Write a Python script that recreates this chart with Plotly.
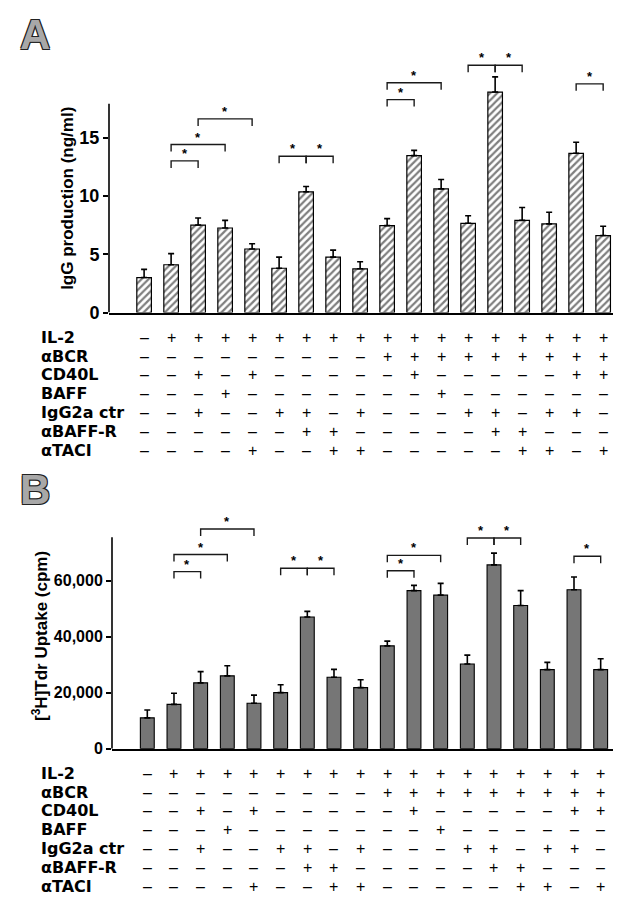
import plotly.graph_objects as go

W, H = 621, 898

# ---------------- data ----------------
conditions = ["IL-2", "αBCR", "CD40L", "BAFF", "IgG2a ctr", "αBAFF-R", "αTACI"]
cond_signs = [
    "-+++++++++++++++++",
    "---------+++++++++",
    "--+-+-----+-----++",
    "---+-------+------",
    "--+--++-+---++-++-",
    "------++-----++---",
    "----+--++-----++-+",
]

igg_values = [3.0, 4.1, 7.5, 7.25, 5.45, 3.8, 10.35, 4.75, 3.75,
              7.45, 13.45, 10.6, 7.65, 18.9, 7.9, 7.6, 13.65, 6.6]
igg_errors = [0.7, 0.95, 0.6, 0.65, 0.45, 0.95, 0.45, 0.6, 0.6,
              0.6, 0.45, 0.8, 0.65, 1.3, 1.1, 1.0, 0.95, 0.8]

tdr_values = [11000, 15800, 23500, 26000, 16200, 20000, 47000, 25500, 21800,
              36700, 56400, 54800, 30200, 65600, 51100, 28200, 56700, 28200]
tdr_errors = [2800, 4000, 4000, 3600, 2900, 2800, 2000, 2800, 2800,
              1700, 1900, 4200, 3200, 4200, 5300, 2600, 4600, 3900]

igg_ticks = [0, 5, 10, 15]
igg_ticklabels = ["0", "5", "10", "15"]
tdr_ticks = [0, 20000, 40000, 60000]
tdr_ticklabels = ["0", "20,000", "40,000", "60,000"]

# significance brackets (bar index left, right, height)
igg_br_left = [1, 1, 2, 5, 6, 9, 9, 12, 13, 16]
igg_br_right = [2, 3, 4, 6, 7, 10, 11, 13, 14, 17]
igg_br_height = [13.0, 14.4, 16.6, 13.4, 13.4, 18.25, 19.7, 21.2, 21.2, 19.6]

tdr_br_left = [1, 1, 2, 5, 6, 9, 9, 12, 13, 16]
tdr_br_right = [2, 3, 4, 6, 7, 10, 11, 13, 14, 17]
tdr_br_height = [63200, 69300, 78400, 64400, 64400, 63500, 69000, 75200, 75200, 68700]

n = len(igg_values)
xs = list(range(n))

FONT = "Liberation Sans, Arial, Helvetica, sans-serif"
WIDE = "DejaVu Sans, Verdana, sans-serif"


def py(px):
    return 1 - px / H


def px_x(px):
    return px / W


fig = go.Figure()

# Panel A bars
fig.add_trace(go.Bar(
    x=xs, y=igg_values, width=0.54,
    marker=dict(color="white", line=dict(color="black", width=1.2),
                pattern=dict(shape="/", fgcolor="black", bgcolor="white",
                             size=5, solidity=0.45)),
    error_y=dict(type="data", symmetric=False, array=igg_errors,
                 arrayminus=[0] * n, color="black", thickness=1.6, width=3),
    xaxis="x", yaxis="y", showlegend=False,
))

# Panel B bars
fig.add_trace(go.Bar(
    x=xs, y=tdr_values, width=0.52,
    marker=dict(color="#767676", line=dict(color="black", width=1.1)),
    error_y=dict(type="data", symmetric=False, array=tdr_errors,
                 arrayminus=[0] * n, color="black", thickness=1.6, width=3),
    xaxis="x2", yaxis="y2", showlegend=False,
))

axis_common = dict(showgrid=False, zeroline=False)

fig.update_layout(
    width=W, height=H,
    margin=dict(l=0, r=0, t=0, b=0),
    paper_bgcolor="white", plot_bgcolor="white",
    font=dict(family=FONT, color="black"),
    bargap=0.4,
    xaxis=dict(domain=[px_x(101), px_x(620)], range=[-1.3, 17.92],
               showline=True, linecolor="black", linewidth=1.6,
               ticks="", showticklabels=False, anchor="y", **axis_common),
    yaxis=dict(domain=[py(308), py(42.5)], range=[0, 22.5],
               tickvals=igg_ticks, ticktext=igg_ticklabels,
               ticks="outside", ticklen=5, tickwidth=1.5, tickcolor="black",
               tickfont=dict(family=FONT, size=18, weight="bold"),
               showline=False, anchor="x", **axis_common),
    xaxis2=dict(domain=[px_x(104), px_x(610)], range=[-1.324, 17.65],
                showline=True, linecolor="black", linewidth=1.6,
                ticks="", showticklabels=False, anchor="y2", **axis_common),
    yaxis2=dict(domain=[py(749), py(516.7)], range=[0, 82000],
                tickvals=tdr_ticks, ticktext=tdr_ticklabels,
                ticks="outside", ticklen=5, tickwidth=1.5, tickcolor="black",
                tickfont=dict(family=FONT, size=16, weight="bold"),
                showline=False, anchor="x2", **axis_common),
)

shapes = []
annotations = []

# y axis lines (stopping below the brackets)
shapes.append(dict(type="line", xref="x domain", yref="y", x0=0, x1=0,
                   y0=0, y1=17.9, line=dict(color="black", width=1.6)))
shapes.append(dict(type="line", xref="x2 domain", yref="y2", x0=0, x1=0,
                   y0=0, y1=75500, line=dict(color="black", width=1.6)))


def add_brackets(xref, yref, lefts, rights, heights, leg):
    for l, r, h in zip(lefts, rights, heights):
        shapes.append(dict(type="path", xref=xref, yref=yref,
                           path=f"M {l},{h - leg} L {l},{h} L {r},{h} L {r},{h - leg}",
                           line=dict(color="#1a1a1a", width=1.4)))
        annotations.append(dict(xref=xref, yref=yref, x=(l + r) / 2, y=h,
                                text="*", showarrow=False, yanchor="bottom",
                                yshift=-2,
                                font=dict(family=FONT, size=13, color="black",
                                          weight="bold")))


add_brackets("x", "y", igg_br_left, igg_br_right, igg_br_height, 0.6)
add_brackets("x2", "y2", tdr_br_left, tdr_br_right, tdr_br_height, 2500)

# condition tables
row_gap = 19.0
for table_xref, first_row in (("x", 333), ("x2", 774)):
    for r, (name, signs) in enumerate(zip(conditions, cond_signs)):
        ypx = first_row + r * row_gap
        annotations.append(dict(xref="paper", yref="paper", x=px_x(32), y=py(ypx),
                                text=name, showarrow=False, xanchor="left",
                                yanchor="middle", borderpad=0,
                                font=dict(family=WIDE, size=16, weight="bold",
                                          color="black")))
        for i, s in enumerate(signs):
            annotations.append(dict(xref=table_xref, yref="paper", x=i, y=py(ypx),
                                    text="+" if s == "+" else "–",
                                    showarrow=False, xanchor="center",
                                    yanchor="middle", borderpad=0,
                                    font=dict(family=FONT, size=16,
                                              color="black")))

# y titles
annotations.append(dict(xref="paper", yref="paper", x=px_x(60), y=py(193),
                        text="IgG production (ng/ml)", textangle=-90,
                        showarrow=False, xanchor="center", yanchor="middle",
                        font=dict(family=FONT, size=17, weight="bold")))
annotations.append(dict(xref="paper", yref="paper", x=px_x(32), y=py(635),
                        text="[<sup>3</sup>H]Tdr Uptake (cpm)", textangle=-90,
                        showarrow=False, xanchor="center", yanchor="middle",
                        font=dict(family=FONT, size=17, weight="bold")))

# panel letters
outline = "1px 1px 0 #222, -1px -1px 0 #222, 1px -1px 0 #222, -1px 1px 0 #222"
for letter, cx, cy in (("A", 27, 27), ("B", 27, 487)):
    annotations.append(dict(xref="paper", yref="paper", x=px_x(cx), y=py(cy),
                            text=letter, showarrow=False, xanchor="center",
                            yanchor="middle",
                            font=dict(family=FONT, size=42, weight="bold",
                                      color="#a8a8a8", shadow=outline)))

fig.update_layout(shapes=shapes, annotations=annotations)

fig.write_html("out.html")
